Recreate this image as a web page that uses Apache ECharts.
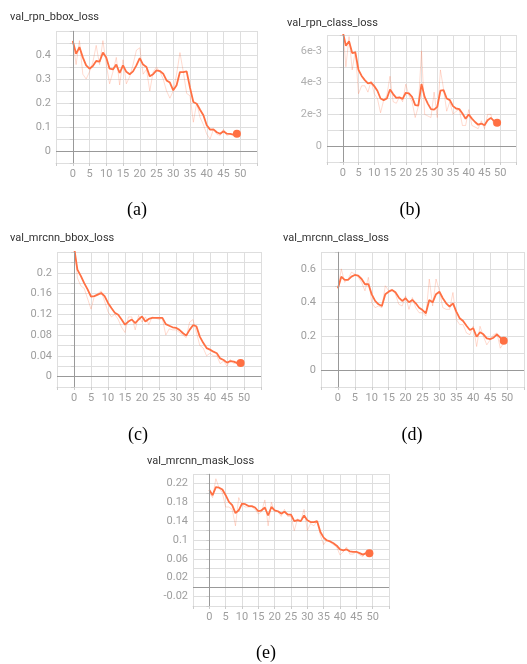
<!DOCTYPE html>
<html><head><meta charset="utf-8">
<script src="https://cdn.jsdelivr.net/npm/echarts@6/dist/echarts.min.js"></script>
<style>html,body{margin:0;padding:0;background:#fff}#c{width:527px;height:664px}</style>
</head><body><div id="c"></div><script>
const epochs = [0,1,2,3,4,5,6,7,8,9,10,11,12,13,14,15,16,17,18,19,20,21,22,23,24,25,26,27,28,29,30,31,32,33,34,35,36,37,38,39,40,41,42,43,44,45,46,47,48,49];
const xTicks = ['0','5','10','15','20','25','30','35','40','45','50'];

const titles = ['val_rpn_bbox_loss','val_rpn_class_loss','val_mrcnn_bbox_loss','val_mrcnn_class_loss','val_mrcnn_mask_loss'];
const captions = ['(a)','(b)','(c)','(d)','(e)'];

// (a) val_rpn_bbox_loss
const rpnBboxSmooth = [0.458,0.405,0.433,0.39,0.357,0.343,0.354,0.375,0.372,0.41,0.39,0.343,0.34,0.36,0.325,0.357,0.33,0.32,0.332,0.357,0.387,0.36,0.35,0.311,0.32,0.336,0.333,0.322,0.294,0.285,0.253,0.274,0.329,0.329,0.332,0.264,0.204,0.197,0.172,0.149,0.107,0.089,0.09,0.078,0.072,0.082,0.072,0.071,0.068,0.072];
const rpnBboxRaw = [0.46,0.36,0.46,0.32,0.30,0.33,0.37,0.44,0.36,0.46,0.36,0.28,0.33,0.39,0.275,0.38,0.28,0.31,0.36,0.42,0.43,0.32,0.34,0.25,0.33,0.35,0.33,0.30,0.25,0.22,0.25,0.32,0.41,0.33,0.24,0.23,0.12,0.2,0.14,0.11,0.07,0.05,0.09,0.07,0.065,0.09,0.065,0.07,0.065,0.075];

// (b) val_rpn_class_loss (units of 1e-3)
const rpnClassSmooth = [7.2,6.32,6.6,5.86,5.9,4.8,4.42,4.16,3.95,4.0,3.78,3.49,3.0,2.9,3.0,3.57,3.28,3.04,3.07,2.98,3.36,3.32,3.1,2.58,2.56,3.91,3.1,2.68,2.33,2.3,2.47,3.49,3.53,3.0,2.9,2.52,2.37,2.33,2.05,1.73,1.99,1.73,1.52,1.35,1.42,1.31,1.63,1.78,1.59,1.48];
const rpnClassRaw = [7.5,5.0,6.9,4.8,6.0,3.3,3.8,3.8,3.4,4.1,3.3,3.0,2.1,2.9,3.2,4.4,2.8,2.7,3.1,2.8,3.9,3.2,2.8,1.8,2.5,6.0,2.0,1.9,1.8,3.4,1.8,4.8,3.6,2.2,2.8,2.0,2.2,2.3,1.3,1.3,2.3,1.3,1.2,1.1,1.6,1.1,2.0,2.0,1.3,1.35];

// (c) val_mrcnn_bbox_loss
const mrcnnBboxSmooth = [0.25,0.206,0.194,0.18,0.168,0.154,0.155,0.158,0.161,0.155,0.142,0.132,0.123,0.119,0.11,0.1,0.106,0.11,0.103,0.11,0.116,0.106,0.111,0.113,0.113,0.113,0.113,0.101,0.098,0.095,0.094,0.09,0.084,0.079,0.09,0.099,0.097,0.077,0.065,0.055,0.052,0.048,0.045,0.035,0.032,0.027,0.03,0.029,0.026,0.026];
const mrcnnBboxRaw = [0.26,0.19,0.175,0.17,0.15,0.13,0.155,0.16,0.165,0.145,0.125,0.115,0.12,0.11,0.095,0.085,0.115,0.115,0.09,0.118,0.105,0.115,0.1,0.115,0.113,0.11,0.112,0.08,0.092,0.09,0.09,0.085,0.08,0.075,0.105,0.11,0.085,0.06,0.055,0.04,0.045,0.04,0.04,0.025,0.03,0.02,0.033,0.025,0.03,0.025];

// (d) val_mrcnn_class_loss
const mrcnnClassSmooth = [0.485,0.554,0.535,0.535,0.554,0.564,0.56,0.54,0.509,0.51,0.449,0.41,0.39,0.38,0.45,0.465,0.475,0.461,0.43,0.41,0.426,0.402,0.416,0.396,0.37,0.356,0.337,0.416,0.402,0.45,0.465,0.426,0.396,0.376,0.396,0.347,0.307,0.291,0.263,0.238,0.248,0.198,0.224,0.212,0.188,0.184,0.192,0.212,0.192,0.174];
const mrcnnClassRaw = [0.48,0.6,0.52,0.54,0.58,0.57,0.55,0.52,0.47,0.55,0.4,0.37,0.38,0.37,0.5,0.47,0.48,0.45,0.39,0.38,0.44,0.36,0.43,0.37,0.34,0.34,0.32,0.54,0.38,0.54,0.47,0.37,0.36,0.36,0.46,0.3,0.27,0.27,0.22,0.21,0.26,0.14,0.26,0.2,0.15,0.18,0.21,0.22,0.13,0.16];

// (e) val_mrcnn_mask_loss
const mrcnnMaskSmooth = [0.206,0.195,0.212,0.211,0.207,0.195,0.181,0.174,0.157,0.163,0.177,0.176,0.172,0.172,0.169,0.161,0.163,0.169,0.152,0.17,0.163,0.161,0.156,0.16,0.154,0.154,0.14,0.142,0.14,0.152,0.142,0.138,0.138,0.14,0.117,0.105,0.099,0.097,0.093,0.088,0.08,0.078,0.08,0.076,0.075,0.075,0.072,0.069,0.072,0.072];
const mrcnnMaskRaw = [0.2,0.19,0.23,0.21,0.2,0.17,0.17,0.165,0.13,0.19,0.175,0.17,0.17,0.17,0.165,0.155,0.16,0.185,0.13,0.18,0.16,0.16,0.15,0.165,0.15,0.15,0.12,0.145,0.14,0.165,0.12,0.135,0.13,0.14,0.11,0.09,0.1,0.095,0.09,0.085,0.068,0.075,0.085,0.07,0.07,0.075,0.068,0.065,0.075,0.07];

const ORANGE = '#ff7043';
const GRIDC = '#dedede';
const ZEROC = '#999999';
const LABELC = '#9e9e9e';

const panels = [
  {smooth: rpnBboxSmooth, raw: rpnBboxRaw, grid:{left:56, top:31, width:201, height:132}, y:{min:-0.05, max:0.5, interval:0.05, odd:false, exp:false},
   title:[10,17], cap:[137,210]},
  {smooth: rpnClassSmooth.map(v=>v/1000), raw: rpnClassRaw.map(v=>v/1000), grid:{left:327, top:35, width:189, height:127}, y:{min:-0.001, max:0.007, interval:0.001, odd:false, exp:true},
   title:[287,23], cap:[410,210]},
  {smooth: mrcnnBboxSmooth, raw: mrcnnBboxRaw, grid:{left:57, top:252, width:204, height:135}, y:{min:-0.02, max:0.24, interval:0.02, odd:false, exp:false},
   title:[10,238], cap:[138,435]},
  {smooth: mrcnnClassSmooth, raw: mrcnnClassRaw, grid:{left:321, top:252, width:211, height:135}, y:{min:-0.1, max:0.7, interval:0.1, odd:false, exp:false},
   title:[283,238], cap:[412,435]},
  {smooth: mrcnnMaskSmooth, raw: mrcnnMaskRaw, grid:{left:193, top:474, width:196, height:132}, y:{min:-0.04, max:0.24, interval:0.02, odd:true, exp:false},
   title:[147,461], cap:[266,653]}
];

const option = {
  backgroundColor: '#fff',
  animation: false,
  grid: [], xAxis: [], yAxis: [], series: [], graphic: []
};

panels.forEach((p, i) => {
  option.grid.push(Object.assign({containLabel:false}, p.grid));
  option.xAxis.push({
    type:'value', gridIndex:i, min:-5, max:55, interval:5,
    axisLine:{show:true, onZero:false, lineStyle:{color:GRIDC}},
    axisTick:{show:true, length:3, lineStyle:{color:'#cccccc'}},
    splitLine:{show:true, lineStyle:{color:GRIDC, width:1}},
    axisLabel:{color:LABELC, fontSize:11, fontFamily:'Roboto', margin:6,
      formatter: v => xTicks.indexOf(String(v)) >= 0 ? String(v) : ''}
  });
  const yc = p.y;
  option.yAxis.push({
    type:'value', gridIndex:i, min:yc.min, max:yc.max, interval:yc.interval,
    axisLine:{show:true, lineStyle:{color:GRIDC}},
    axisTick:{show:true, length:3, lineStyle:{color:'#cccccc'}},
    splitLine:{show:true, lineStyle:{color:GRIDC, width:1}},
    axisLabel:{color: i===1 ? '#b0b0b0' : LABELC, fontSize:11, fontFamily:'Roboto', margin:5,
      formatter: v => {
        const k = Math.round(v / yc.interval);
        if (Math.abs(v - yc.max) < 1e-9 || Math.abs(v - yc.min) < 1e-9) return '';
        const isOdd = Math.abs(k % 2) === 1;
        if (isOdd !== yc.odd) return '';
        if (k === 0) return '0';
        if (yc.exp) return k + 'e-3';
        return String(parseFloat(v.toFixed(4)));
      }}
  });
  option.series.push({
    type:'line', xAxisIndex:i, yAxisIndex:i, showSymbol:false, symbol:'none',
    data: epochs.map((e, j) => [e, p.raw[j]]),
    lineStyle:{color:ORANGE, width:1, opacity:0.25}, z:2, silent:true,
    markLine:{silent:true, symbol:'none', label:{show:false},
      lineStyle:{color:ZEROC, type:'solid', width:1},
      data:[{xAxis:0},{yAxis:0}]}
  });
  option.series.push({
    type:'line', xAxisIndex:i, yAxisIndex:i, showSymbol:false, symbol:'none',
    data: epochs.map((e, j) => [e, p.smooth[j]]),
    lineStyle:{color:ORANGE, width:1.8}, z:3, silent:true
  });
  const last = epochs.length - 1;
  option.series.push({
    type:'scatter', xAxisIndex:i, yAxisIndex:i, symbolSize:8,
    data:[[epochs[last], p.smooth[last]]], itemStyle:{color:ORANGE, opacity:1}, z:4, silent:true
  });
  option.graphic.push({type:'text', x:p.title[0], y:p.title[1],
    style:{text:titles[i], fill:'#333', font:'11px Roboto', textVerticalAlign:'middle'}});
  option.graphic.push({type:'text', x:p.cap[0], y:p.cap[1],
    style:{text:captions[i], fill:'#000', font:'18px "Liberation Serif", "DejaVu Serif", serif', textAlign:'center', textVerticalAlign:'middle'}});
});

const chart = echarts.init(document.getElementById('c'), null, {renderer:'canvas'});
chart.setOption(option);
</script></body></html>
